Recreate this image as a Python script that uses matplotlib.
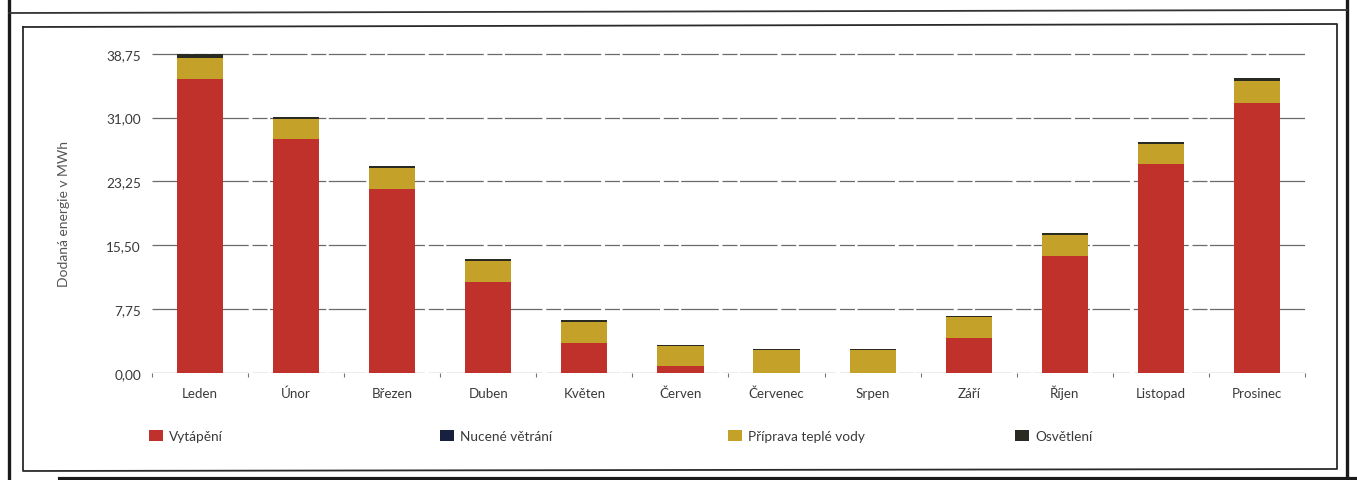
import matplotlib
matplotlib.use("Agg")
import matplotlib.pyplot as plt
from matplotlib.patches import Patch
from matplotlib.lines import Line2D
import numpy as np

months = ["Leden", "Únor", "Březen", "Duben", "Květen", "Červen",
          "Červenec", "Srpen", "Září", "Říjen", "Listopad", "Prosinec"]
vytapeni = [35.7, 28.4, 22.3, 11.1, 3.65, 0.8, 0.05, 0.05, 4.3, 14.2, 25.4, 32.8]
nucene_vetrani = [0.0, 0.0, 0.0, 0.0, 0.0, 0.0, 0.0, 0.0, 0.0, 0.0, 0.0, 0.0]
priprava_vody = [2.55, 2.45, 2.55, 2.5, 2.6, 2.45, 2.7, 2.75, 2.5, 2.55, 2.4, 2.65]
osvetleni = [0.45, 0.25, 0.3, 0.2, 0.2, 0.15, 0.15, 0.17, 0.15, 0.25, 0.25, 0.35]
yticks = [0.0, 7.75, 15.5, 23.25, 31.0, 38.75]
ytick_labels = ["0,00", "7,75", "15,50", "23,25", "31,00", "38,75"]
series_names = ["Vytápění", "Nucené větrání", "Příprava teplé vody", "Osvětlení"]
colors = ["#C0312B", "#17213F", "#C4A22A", "#2B2A22"]

plt.rcParams['font.family'] = ['Lato', 'DejaVu Sans']

W, H = 1357, 481
fig = plt.figure(figsize=(W / 100, H / 100), dpi=100)
fig.patch.set_facecolor("white")

def fx(px):
    return px / W

def fy(py):
    return 1 - py / H

# scanned-document frames
frame_kw = dict(transform=fig.transFigure, figure=fig)
fig.add_artist(Line2D([fx(9), fx(9)], [fy(0), fy(481)], lw=2.4, color="#1a1a1a", **frame_kw))
fig.add_artist(Line2D([fx(1347), fx(1347)], [fy(0), fy(481)], lw=2.4, color="#1a1a1a", **frame_kw))
fig.add_artist(Line2D([fx(9), fx(1347)], [fy(14), fy(11)], lw=1.3, color="#333333", **frame_kw))
fig.add_artist(Line2D([fx(60), fx(1357)], [fy(480), fy(480)], lw=3.0, color="#1a1a1a", **frame_kw))
fig.add_artist(Line2D([fx(23), fx(1337), fx(1337), fx(23), fx(23)],
                      [fy(28), fy(25), fy(470), fy(472), fy(28)],
                      lw=1.3, color="#2a2a2a", **frame_kw))

ax = fig.add_axes([fx(152), fy(374), fx(1305 - 152), (374 - 53.5) / H])
x = np.arange(len(months))
width = 0.48
bottom = np.zeros(len(months))
for vals, name, col in zip([vytapeni, nucene_vetrani, priprava_vody, osvetleni], series_names, colors):
    ax.bar(x, vals, width, bottom=bottom, color=col, label=name, zorder=3, linewidth=0)
    bottom = bottom + np.array(vals)

ax.set_xlim(-0.5, len(months) - 0.5)
ax.set_ylim(0, 38.9)
ax.set_yticks(yticks)
ax.set_yticklabels(ytick_labels)
ax.set_xticks(x)
ax.set_xticklabels(months)
ax.set_xticks(np.arange(len(months) + 1) - 0.5, minor=True)
ax.tick_params(axis="x", which="major", length=0, pad=17, labelsize=9.6, labelcolor="#3a3a3a")
for lab in ax.get_xticklabels():
    lab.set_verticalalignment("baseline")
ax.tick_params(axis="x", which="minor", length=3, color="#777777", width=0.8)
ax.tick_params(axis="y", length=0, pad=8, labelsize=9.8, labelcolor="#3a3a3a")
for yt in yticks:
    ax.axhline(yt, color="#6a6a6a", lw=0.9, ls=(0, (30, 3, 12, 2)), zorder=1)
for s in ax.spines.values():
    s.set_visible(False)
ax.set_ylabel("Dodaná energie v MWh", fontsize=10, color="#555555")
ax.yaxis.set_label_coords((70 - 152) / 1153, 0.5)

leg_x = [149, 440, 728, 1015]
for h_col, name, lx in zip(colors, series_names, leg_x):
    fig.legend([Patch(facecolor=h_col, edgecolor="none")], [name],
               loc="center left", bbox_to_anchor=(fx(lx), fy(437)),
               frameon=False, fontsize=9.8, handlelength=1.0, handleheight=0.95,
               handletextpad=0.5, borderpad=0, borderaxespad=0,
               labelcolor="#3a3a3a")

fig.savefig("out.png", dpi=100)
